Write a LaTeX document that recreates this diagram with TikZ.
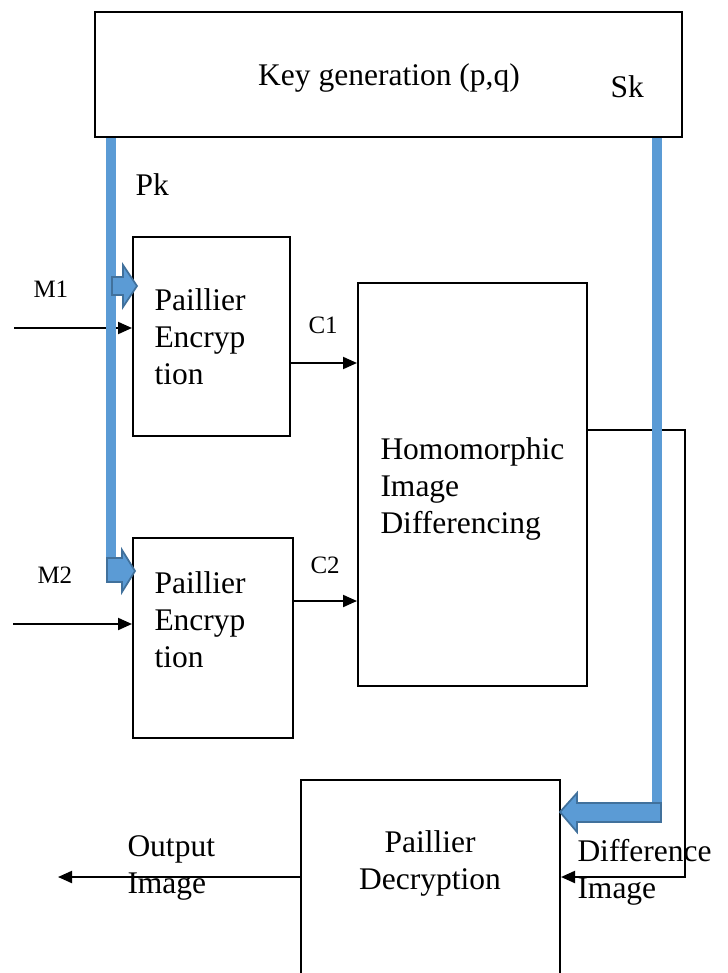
\documentclass[tikz,border=0pt]{standalone}
\usepackage{fontspec}
\setmainfont{Liberation Serif}
\usetikzlibrary{arrows.meta,fit}
\definecolor{keyblue}{RGB}{91,155,213}
\definecolor{keyedge}{RGB}{65,113,156}

\begin{document}
\begin{tikzpicture}[x=0.4pt,y=-0.4pt,
    box/.style={draw,line width=0.8pt,inner sep=0pt},
    txt/.style={font=\fontsize{12.6}{14.8}\selectfont,inner sep=0pt},
    lbl/.style={font=\fontsize{10}{12}\selectfont,inner sep=0pt},
    arr/.style={-{Triangle[length=5.6pt,width=4.8pt]},line width=0.8pt},
    keyline/.style={keyblue,line width=4pt},
    blockarr/.style={fill=keyblue,draw=keyedge,line width=0.7pt,line join=miter}]
    \clip (0,0) rectangle (727,973);
    % boxes
    \node[box,fit={(95,12) (682,137)}] (keygen) {};
    \node[box,fit={(133,237) (290,436)}] (encA) {};
    \node[box,fit={(133,538) (293,738)}] (encB) {};
    \node[box,fit={(358,283) (587,686)}] (homdiff) {};
    \node[box,fit={(301,780) (560,1000)}] (decrypt) {};
    % texts (base = last line)
    \node[txt,anchor=base] (keytxt) at (389,85) {Key generation (p,q)};
    \node[txt,anchor=base west] (sk) at (610,97) {Sk};
    \node[txt,anchor=base west] (pk) at (135,195) {Pk};
    \node[txt,anchor=base west,align=left] (encAtxt) at (154,384) {Paillier\\Encryp\\tion};
    \node[txt,anchor=base west,align=left] (encBtxt) at (154,667) {Paillier\\Encryp\\tion};
    \node[txt,anchor=base west,align=left] (homtxt) at (380,533) {Homomorphic\\Image\\Differencing};
    \node[txt,anchor=base,align=center] (dectxt) at (430,889) {Paillier\\Decryption};
    \node[txt,anchor=base west,align=left] (difftxt) at (577,898) {Difference\\Image};
    \node[txt,anchor=base west,align=left] (outtxt) at (127,893) {Output\\Image};
    \node[lbl,anchor=base west] (m1) at (33,297) {M1};
    \node[lbl,anchor=base west] (m2) at (37,583) {M2};
    \node[lbl,anchor=base west] (c1) at (308,333) {C1};
    \node[lbl,anchor=base west] (c2) at (310,573) {C2};
    % connectors
    \coordinate (m1in) at (14,328);
    \coordinate (m2in) at (13,624);
    \coordinate (diffcorner) at (685,430);
    \coordinate (outend) at (58,877);
    \draw[arr] (m1in) -- (m1in -| encA.west);
    \draw[arr] (m2in) -- (m2in -| encB.west);
    \draw[arr] (encA.east |- 0,363) -- (homdiff.west |- 0,363);
    \draw[arr] (encB.east |- 0,601) -- (homdiff.west |- 0,601);
    \draw[arr] (homdiff.east |- diffcorner) -- (diffcorner) |- (decrypt.east |- outend);
    \draw[arr] (decrypt.west |- outend) -- (outend);
    % key lines
    \draw[keyline] (keygen.south -| 111,0) -- (111,566);
    \draw[keyline] (keygen.south -| 657,0) -- (657,812);
    \draw[blockarr] (112,277) -- (123,277) -- (123,265) -- (137,286) -- (123,307) -- (123,295) -- (112,295) -- cycle;
    \draw[blockarr] (107,558) -- (122,558) -- (122,550) -- (135,571) -- (122,592) -- (122,582) -- (107,582) -- cycle;
    \draw[blockarr] (661,803) -- (577,803) -- (577,793) -- (560,812) -- (577,832) -- (577,822) -- (661,822) -- cycle;
\end{tikzpicture}
\end{document}
